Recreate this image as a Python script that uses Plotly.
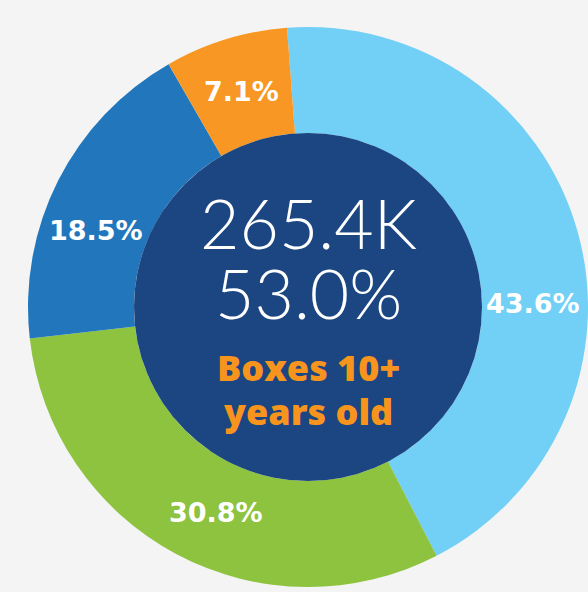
import math
import plotly.graph_objects as go

# ---- data ----
segments = ["Segment A", "Segment B", "Segment C", "Segment D"]
shares = [43.6, 30.8, 18.5, 7.1]
seg_colors = ["#72CFF5", "#8DC33F", "#2277BC", "#F99724"]
label_nudge_deg = [15, -4, -7, 0]   # small angular shifts of the % labels
center_value = "265.4K"
center_share = "53.0%"
center_caption = ["Boxes 10+", "years old"]

W, H = 588, 592
BG = "#F4F4F4"
CENTER_FILL = "#1B4681"
ORANGE = "#F7941D"
ROTATION = -4.3

# pie geometry (pixel based, converted to paper)
cx_px, cy_px, R = 308, 307, 280
hole = 174 / R

dom_x = [(cx_px - R) / W, (cx_px + R) / W]
dom_y = [1 - (cy_px + R) / H, 1 - (cy_px - R) / H]

fig = go.Figure()
fig.add_trace(go.Pie(
    labels=segments,
    values=shares,
    sort=False,
    direction="clockwise",
    rotation=ROTATION,
    hole=hole,
    marker=dict(colors=seg_colors, line=dict(width=0)),
    textinfo="none",
    domain=dict(x=dom_x, y=dom_y),
    showlegend=False,
    hoverinfo="label+percent",
))

# central filled disc
cxp = (dom_x[0] + dom_x[1]) / 2
cyp = (dom_y[0] + dom_y[1]) / 2
rx = hole * R / W
ry = hole * R / H
fig.add_shape(type="circle", xref="paper", yref="paper",
              x0=cxp - rx, x1=cxp + rx, y0=cyp - ry, y1=cyp + ry,
              fillcolor=CENTER_FILL, line=dict(width=0), layer="above")

# percentage labels at the middle of the ring, derived from the data
total = sum(shares)
r_mid = (hole * R + R) / 2 - 2
acc = ROTATION
for v, nudge in zip(shares, label_nudge_deg):
    ang = acc + 360 * v / total / 2 + nudge
    acc += 360 * v / total
    a = math.radians(ang)
    lx = cx_px + r_mid * math.sin(a)
    ly = cy_px - r_mid * math.cos(a)
    fig.add_annotation(x=lx / W, y=1 - ly / H, xref="paper", yref="paper",
                       text=f"<b>{v / total * 100:.1f}%</b>", showarrow=False,
                       xanchor="center", yanchor="middle",
                       font=dict(family="DejaVu Sans", size=27, color="white", weight=700))

def py(p):
    return 1 - p / H

texts = [
    (center_value, 222, 68, "white", 300, "Lato"),
    (center_share, 292, 68, "white", 300, "Lato"),
    (center_caption[0], 367, 36, ORANGE, 800, "Open Sans"),
    (center_caption[1], 411, 36, ORANGE, 800, "Open Sans"),
]
for t, ypx, size, col, wt, fam in texts:
    fig.add_annotation(x=cxp, y=py(ypx), xref="paper", yref="paper",
                       text=t, showarrow=False, xanchor="center", yanchor="middle",
                       font=dict(family=fam, size=size, color=col, weight=wt))

fig.update_layout(
    width=W, height=H,
    margin=dict(l=0, r=0, t=0, b=0),
    paper_bgcolor=BG, plot_bgcolor=BG,
)

fig.write_html("out.html")
